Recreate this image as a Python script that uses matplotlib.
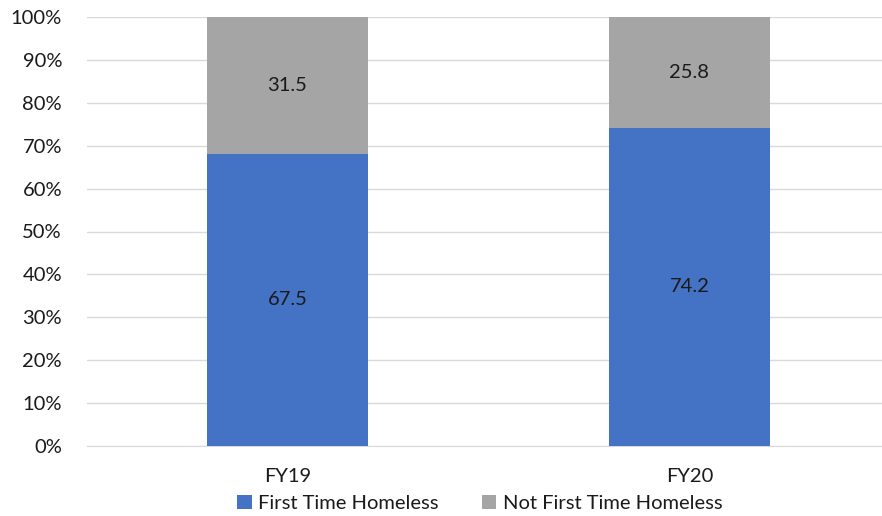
import numpy as np
import matplotlib.pyplot as plt
from matplotlib.ticker import PercentFormatter

plt.rcParams['font.family'] = ['Lato', 'DejaVu Sans']

years = ['FY19', 'FY20']
first_time = np.array([67.5, 74.2])
not_first_time = np.array([31.5, 25.8])

# 100% stacked: normalise each column to its total
total = first_time + not_first_time
first_pct = first_time / total * 100
not_first_pct = not_first_time / total * 100

fig = plt.figure(figsize=(8.82, 5.16), dpi=100)
ax = fig.add_axes([87 / 882, 70 / 516, 795 / 882, 429 / 516])

x = np.arange(len(years))
blue = '#4472C4'
grey = '#A5A5A5'
ax.bar(x, first_pct, width=0.4, color=blue, label='First Time Homeless', zorder=3)
ax.bar(x, not_first_pct, width=0.4, bottom=first_pct, color=grey,
       label='Not First Time Homeless', zorder=3)

for i in range(len(years)):
    ax.text(x[i], first_pct[i] / 2, f'{first_time[i]:.1f}', ha='center', va='center',
            fontsize=14.5, color='#1a1a1a', zorder=4)
    ax.text(x[i], first_pct[i] + not_first_pct[i] / 2, f'{not_first_time[i]:.1f}',
            ha='center', va='center', fontsize=14.5, color='#1a1a1a', zorder=4)

ax.set_xlim(-0.499, 1.479)
ax.set_ylim(0, 100)
ax.set_yticks(np.arange(0, 101, 10))
ax.yaxis.set_major_formatter(PercentFormatter(decimals=0))
ax.set_xticks(x)
ax.set_xticklabels(years)
ax.tick_params(axis='both', length=0, labelsize=14.5, colors='#1a1a1a')
ax.tick_params(axis='x', pad=16)
ax.tick_params(axis='y', pad=18)
ax.grid(axis='y', color='#D9D9D9', linewidth=1, zorder=0)
for s in ['top', 'right', 'left']:
    ax.spines[s].set_visible(False)
ax.spines['bottom'].set_color('#D9D9D9')

fig.legend(loc='center', bbox_to_anchor=(0.544, 0.024), ncol=2, frameon=False,
           fontsize=14.5, handlelength=0.7, handleheight=0.7, handletextpad=0.3,
           columnspacing=2.2, labelcolor='#1a1a1a', borderaxespad=0, borderpad=0)

fig.savefig('out.png', dpi=100)
